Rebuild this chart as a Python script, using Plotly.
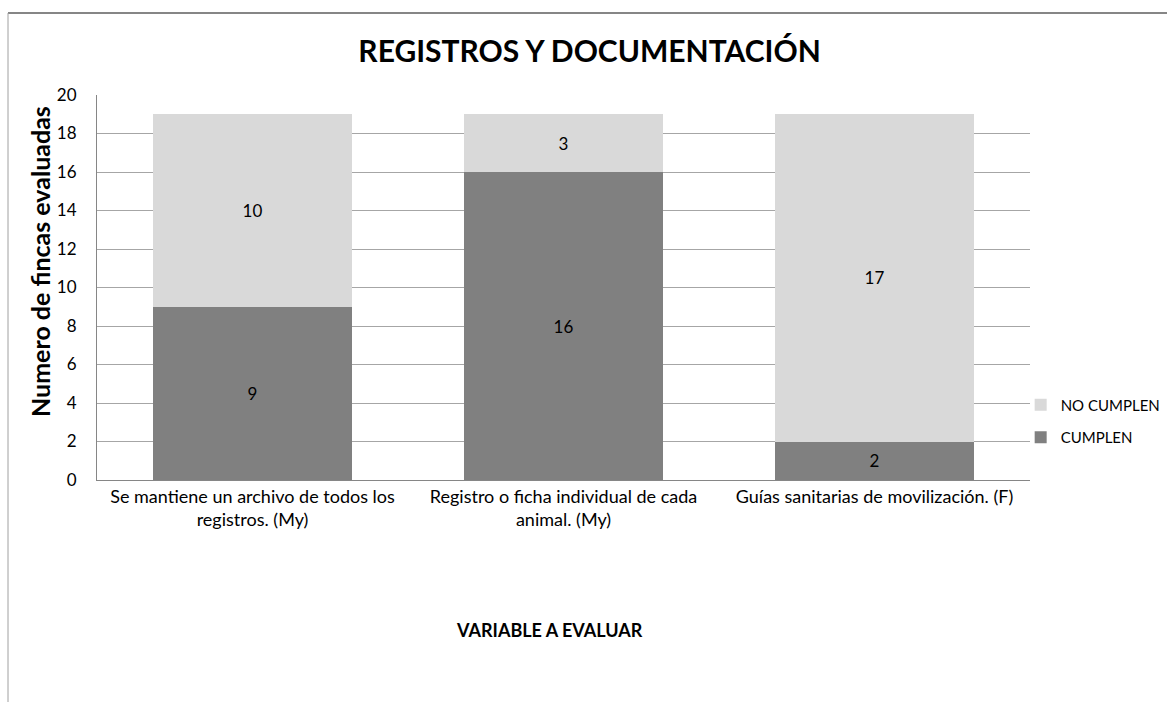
import plotly.graph_objects as go

categories = [
    "Se mantiene un archivo de todos los<br>registros. (My)",
    "Registro o ficha individual de cada<br>animal. (My)",
    "Guías sanitarias de movilización. (F)",
]
cumplen = [9, 16, 2]
no_cumplen = [10, 3, 17]
y_ticks = list(range(0, 21, 2))

FONT = "Lato, 'Open Sans', sans-serif"

fig = go.Figure()
fig.add_trace(go.Bar(
    x=categories, y=cumplen, name="CUMPLEN", legendgroup="c", legendrank=2,
    marker=dict(color="#808080", line=dict(width=0)),
    text=cumplen, textposition="inside", insidetextanchor="middle",
    textfont=dict(color="black", size=17, family=FONT),
))
fig.add_trace(go.Bar(
    x=categories, y=no_cumplen, name="NO CUMPLEN", legendgroup="n", legendrank=1,
    marker=dict(color="#d9d9d9", line=dict(width=0)),
    text=no_cumplen, textposition="inside", insidetextanchor="middle",
    textfont=dict(color="black", size=17, family=FONT),
))

fig.update_layout(
    barmode="stack",
    bargap=0.357,
    width=1167, height=702,
    margin=dict(l=97, r=137, t=95, b=222, autoexpand=False),
    paper_bgcolor="white", plot_bgcolor="white",
    font=dict(family=FONT, color="black", size=17),
    uniformtext=dict(mode="show", minsize=16),
    title=dict(text="<b>REGISTROS Y DOCUMENTACIÓN</b>", xref="paper", x=0.528, xanchor="center",
               y=0.926, yanchor="middle", font=dict(size=30, family=FONT, color="black")),
    legend=dict(x=0.990, xanchor="left", y=0.153, yanchor="middle",
                traceorder="grouped", font=dict(size=15, family=FONT),
                itemwidth=30, tracegroupgap=10, bgcolor="rgba(0,0,0,0)"),
    xaxis=dict(showline=True, linecolor="#868686", linewidth=1, ticks="",
               tickfont=dict(size=18, family=FONT), showgrid=False),
    yaxis=dict(range=[0, 20], tickvals=y_ticks, showline=True, linecolor="#868686",
               linewidth=1, gridcolor="#a6a6a6", gridwidth=1, ticks="",
               tickfont=dict(size=17, family=FONT), ticklabelstandoff=16),
)

fig.add_annotation(text="<b>Numero de fincas evaluadas</b>", textangle=-90,
                   xref="paper", yref="paper", x=(40 - 97) / 933, y=(480 - 262) / 385,
                   xanchor="center", yanchor="middle", showarrow=False,
                   font=dict(size=25, family=FONT))
fig.add_annotation(text="<b>VARIABLE A EVALUAR</b>", xref="paper", yref="paper",
                   x=0.4855, y=-0.39, xanchor="center", yanchor="middle",
                   showarrow=False, font=dict(size=18, family=FONT))

# chart area border (extends past right/bottom edges)
fig.add_shape(type="line", xref="paper", yref="paper",
              x0=-89 / 933, x1=1.2, y0=(480 - 13) / 385, y1=(480 - 13) / 385,
              line=dict(color="#868686", width=2))
fig.add_shape(type="line", xref="paper", yref="paper",
              x0=-89 / 933, x1=-89 / 933, y0=(480 - 13) / 385, y1=-0.65,
              line=dict(color="#a0a0a0", width=1))

fig.write_html(
    "out.html",
    config={"displayModeBar": False},
    post_script="document.body.style.margin='0';document.body.style.overflow='hidden';",
)
